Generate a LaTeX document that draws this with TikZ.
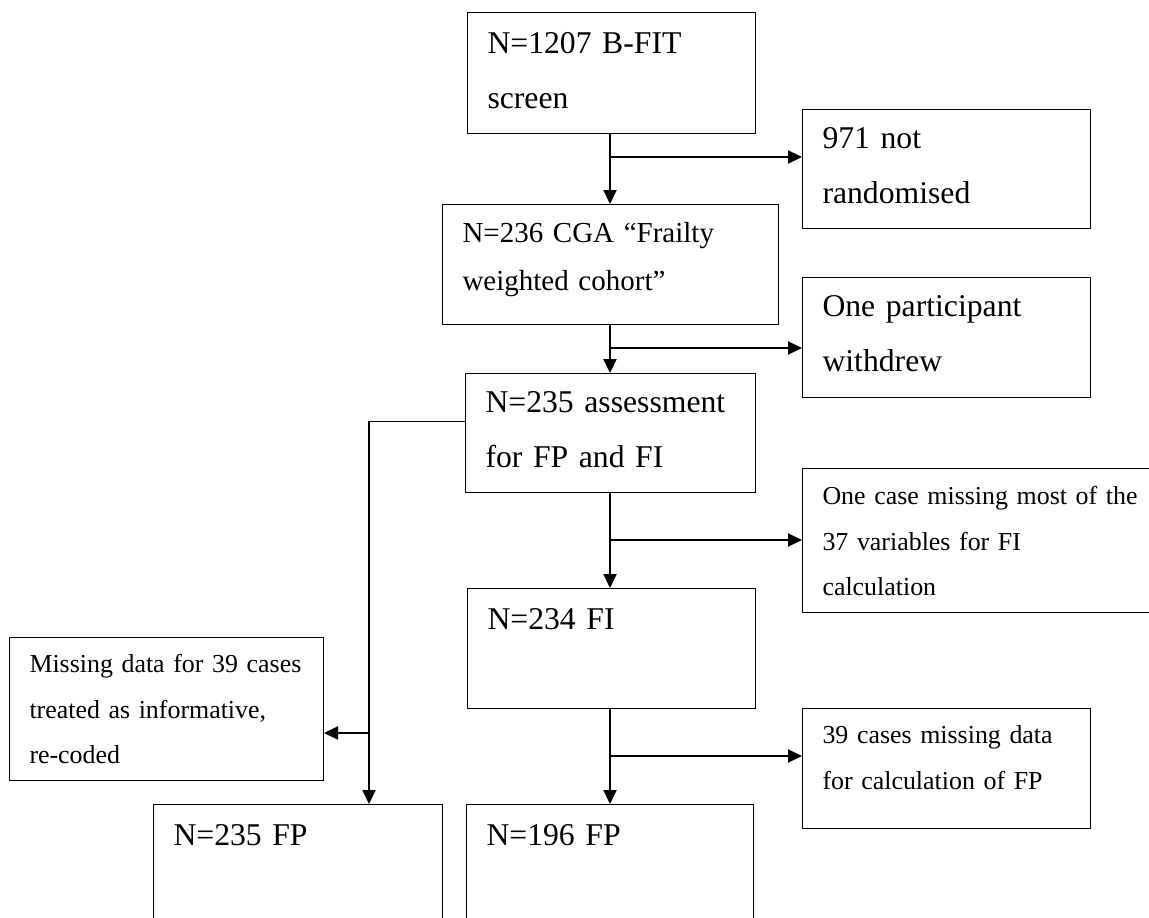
\documentclass[tikz,border=0pt]{standalone}
\usepackage{fontspec}
\setmainfont{Liberation Serif}
\usetikzlibrary{arrows.meta}

\begin{document}
\begin{tikzpicture}[x=1pt,y=-1pt,
    flowbox/.style={draw, line width=1pt, anchor=north west, inner xsep=20pt, inner ysep=0pt, align=left},
    bigtext/.style={font=\fontsize{31.7}{55}\selectfont},
    midtext/.style={font=\fontsize{29}{48}\selectfont},
    smalltext/.style={font=\fontsize{25.9}{45.5}\selectfont},
    flowarrow/.style={line width=2.2pt, -{Triangle[length=14pt,width=13pt]}}]
\path[use as bounding box, clip] (0,0) rectangle (1149,918);
\node[flowbox, bigtext, text width=248pt, text height=41pt, text depth=80pt] (screen) at (467,12) {N=1207 B-FIT\\screen};
\node[flowbox, bigtext, text width=248pt, text height=39pt, text depth=80pt] (notrand) at (802,109) {971 not\\randomised};
\node[flowbox, midtext, text width=296pt, text height=38pt, text depth=82pt] (cohort) at (442,204) {N=236 CGA “Frailty\\weighted cohort”};
\node[flowbox, bigtext, text width=248pt, text height=39pt, text depth=81pt] (withdrew) at (802,277) {One participant\\withdrew};
\node[flowbox, bigtext, text width=250pt, text height=39pt, text depth=80pt] (assess) at (465,373) {N=235 assessment\\for FP and FI};
\node[flowbox, smalltext, text width=340pt, text height=36pt, text depth=108pt] (missfi) at (802,468) {One case missing most of the\\37 variables for FI\\calculation};
\node[flowbox, bigtext, text width=248pt, text height=41pt, text depth=79pt] (fi) at (467,588) {N=234 FI};
\node[flowbox, smalltext, text width=274pt, text height=35pt, text depth=108pt] (recoded) at (9,637) {\mbox{Missing data for 39 cases}\\treated as informative,\\re-coded};
\node[flowbox, smalltext, text width=248pt, text height=35pt, text depth=85pt] (missfp) at (802,708) {39 cases missing data\\for calculation of FP};
\node[flowbox, bigtext, text width=249pt, text height=41pt, text depth=100pt] (fpall) at (153,804) {N=235 FP};
\node[flowbox, bigtext, text width=247pt, text height=41pt, text depth=100pt] (fp) at (466,804) {N=196 FP};
\coordinate (split1) at (610,157);
\coordinate (split2) at (610,348);
\coordinate (split3) at (610,540);
\coordinate (split4) at (610,756);
\coordinate (leftbend) at (369,421);
\coordinate (split5) at (369,733);
\draw[flowarrow] (split1 |- screen.south) -- (split1 |- cohort.north);
\draw[flowarrow] (split1) -- (split1 -| notrand.west);
\draw[flowarrow] (split2 |- cohort.south) -- (split2 |- assess.north);
\draw[flowarrow] (split2) -- (split2 -| withdrew.west);
\draw[flowarrow] (split3 |- assess.south) -- (split3 |- fi.north);
\draw[flowarrow] (split3) -- (split3 -| missfi.west);
\draw[flowarrow] (split4 |- fi.south) -- (split4 |- fp.north);
\draw[flowarrow] (split4) -- (split4 -| missfp.west);
\draw[line width=1pt] (leftbend -| assess.west) -- (leftbend);
\draw[flowarrow] (leftbend) -- (leftbend |- fpall.north);
\draw[flowarrow] (split5) -- (split5 -| recoded.east);
\end{tikzpicture}
\end{document}
